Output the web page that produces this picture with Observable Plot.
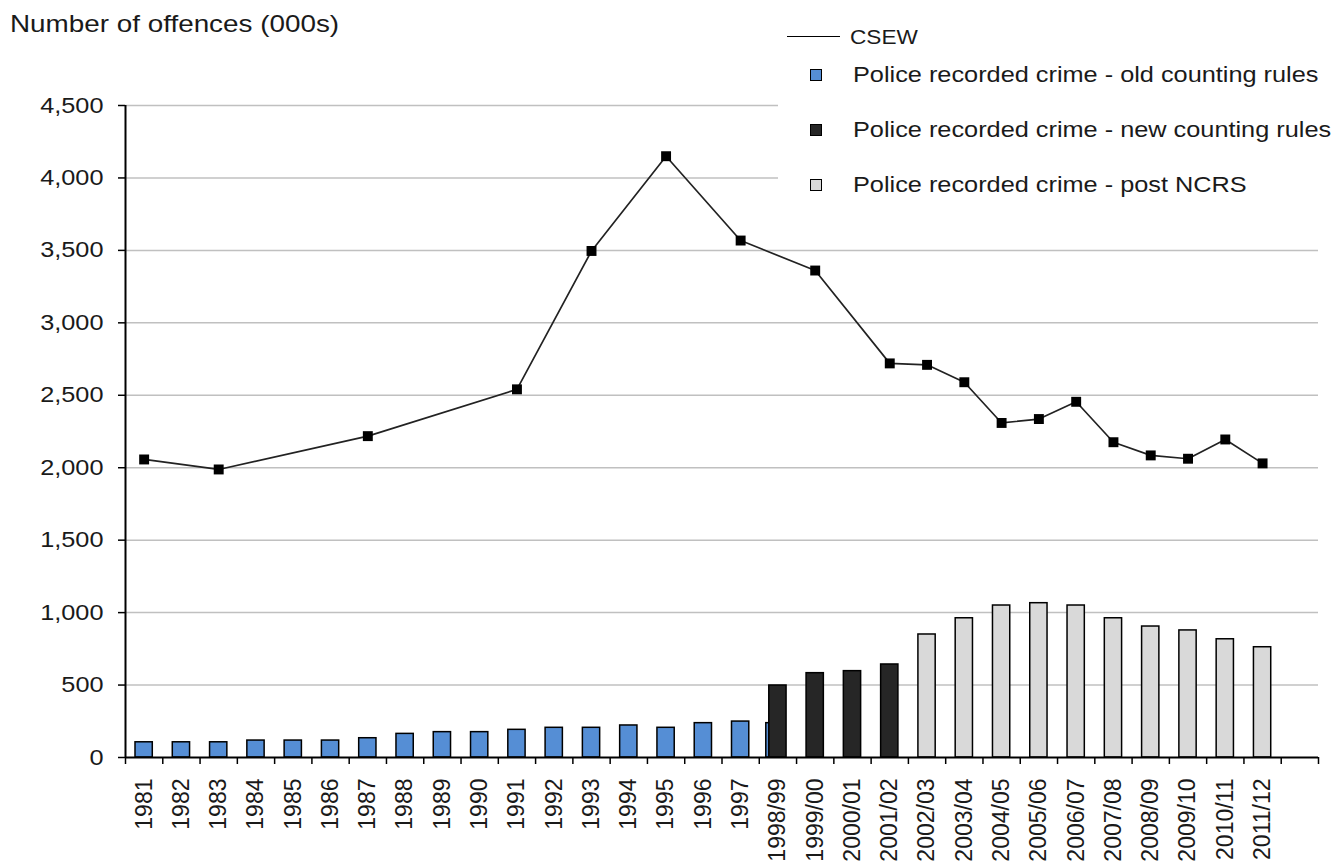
<!DOCTYPE html>
<html><head><meta charset="utf-8">
<script src="https://cdn.jsdelivr.net/npm/d3@7"></script>
<script src="https://cdn.jsdelivr.net/npm/@observablehq/plot@0.6"></script>
<style>
body{margin:0;background:#fff;font-family:"Liberation Sans",Arial,sans-serif;color:#1a1a1a;}
#wrap{position:relative;width:1344px;height:865px;overflow:hidden;background:#fff}
.stretch{position:absolute;white-space:nowrap;transform-origin:0 0;line-height:1}
</style></head><body>
<div id="wrap">
  <div id="title" class="stretch" style="left:10px;top:12px;font-size:24px;transform:scaleX(1.16)">Number of offences (000s)</div>
  <div id="chart" style="position:absolute;left:0;top:50px"></div>
  <div id="legend"></div>
</div>
<script>
// ---- data ----
const categories = ["1981","1982","1983","1984","1985","1986","1987","1988","1989","1990","1991","1992","1993","1994","1995","1996","1997","1998/99","1999/00","2000/01","2001/02","2002/03","2003/04","2004/05","2005/06","2006/07","2007/08","2008/09","2009/10","2010/11","2011/12"];
const oldRulesCats = ["1981","1982","1983","1984","1985","1986","1987","1988","1989","1990","1991","1992","1993","1994","1995","1996","1997","1998/99"];
const oldRulesValues = [105,105,105,117,117,117,133,163,175,175,191,205,205,221,205,237,248,237];
const newRulesCats = ["1998/99","1999/00","2000/01","2001/02"];
const newRulesValues = [497,582,596,642];
const postNcrsCats = ["2002/03","2003/04","2004/05","2005/06","2006/07","2007/08","2008/09","2009/10","2010/11","2011/12"];
const postNcrsValues = [849,961,1049,1065,1049,961,904,877,816,761];
const csewCats = ["1981","1983","1987","1991","1993","1995","1997","1999/00","2001/02","2002/03","2003/04","2004/05","2005/06","2006/07","2007/08","2008/09","2009/10","2010/11","2011/12"];
const csewValues = [2057,1988,2218,2541,3496,4150,3568,3361,2720,2710,2590,2309,2336,2455,2176,2085,2062,2195,2030];
const yTicks = [0,500,1000,1500,2000,2500,3000,3500,4000,4500];
const legendLabels = ["CSEW","Police recorded crime - old counting rules","Police recorded crime - new counting rules","Police recorded crime - post NCRS"];
const legendColors = ["#000000","#558ed5","#262626","#d9d9d9"];

// ---- build ----
const blank = " ";
const xDomain = [...categories, blank];
const W = 1344, H = 815, mL = 125, mR = 26, mT = 55, mB = 108;
const step = (W - mL - mR) / xDomain.length;
const inset = 10;

const toRows = (cats, vals) => cats.map((c, i) => ({cat: c, value: vals[i]}));
const oldRows = toRows(oldRulesCats, oldRulesValues);
const newRows = toRows(newRulesCats, newRulesValues);
const postRows = toRows(postNcrsCats, postNcrsValues);
const csewRows = toRows(csewCats, csewValues);
const overlapCats = new Set(newRulesCats);

const barStyle = {x: "cat", y: "value", stroke: "#000", strokeWidth: 1.5, insetLeft: inset, insetRight: inset};

const chart = Plot.plot({
  width: W, height: H,
  marginLeft: mL, marginRight: mR, marginTop: mT, marginBottom: mB,
  x: {type: "band", domain: xDomain, padding: 0, round: false, label: null},
  y: {domain: [0, yTicks[yTicks.length - 1]], label: null},
  style: {fontFamily: "'Liberation Sans', Arial, sans-serif", fontSize: "22px", color: "#1a1a1a", background: "transparent"},
  marks: [
    Plot.gridY(yTicks.filter(v => v > 0), {stroke: "#c0c0c0", strokeOpacity: 1, strokeWidth: 1.5}),
    Plot.barY(oldRows.filter(d => overlapCats.has(d.cat)), {...barStyle, fill: legendColors[1], dx: -3}),
    Plot.barY(oldRows.filter(d => !overlapCats.has(d.cat)), {...barStyle, fill: legendColors[1]}),
    Plot.barY(newRows, {...barStyle, fill: legendColors[2]}),
    Plot.barY(postRows, {...barStyle, fill: legendColors[3]}),
    Plot.ruleY([0], {stroke: "#000", strokeWidth: 2}),
    Plot.ruleX([xDomain[0]], {dx: -step / 2, stroke: "#000", strokeWidth: 2}),
    Plot.axisY(yTicks, {tickSize: 7, tickPadding: 15, tickFormat: d3.format(","), fontSize: 22, stroke: "#000", strokeWidth: 1.5}),
    Plot.axisX(xDomain, {tickSize: 7, tickFormat: () => "", dx: -step / 2, stroke: "#000", strokeWidth: 1.5}),
    Plot.axisX([blank], {tickSize: 7, tickFormat: () => "", dx: step / 2, stroke: "#000", strokeWidth: 1.5}),
    Plot.axisX(categories, {tickSize: 0, tickPadding: 21, tickRotate: -90, fontSize: 23}),
    Plot.line(csewRows, {x: "cat", y: "value", stroke: "#222", strokeWidth: 1.7}),
    Plot.dot(csewRows, {x: "cat", y: "value", symbol: "square", r: 5.6, fill: "#000", stroke: "none"})
  ]
});
document.getElementById("chart").appendChild(chart);

// widen horizontal tick labels to match the reference's wide glyphs
chart.querySelectorAll('g[aria-label="y-axis tick label"] text').forEach(t => {
  const w = t.getComputedTextLength();
  t.setAttribute("textLength", (w * 1.15).toFixed(1));
  t.setAttribute("lengthAdjust", "spacingAndGlyphs");
});

// ---- legend ----
const lg = document.getElementById("legend");
lg.style.cssText = "position:absolute;left:778px;top:8px;width:566px;height:200px;background:#fff";
const add = (html, css) => { const d = document.createElement("div"); d.innerHTML = html; d.style.cssText = css; document.getElementById("wrap").appendChild(d); return d; };
// CSEW line sample
add("", "position:absolute;left:787px;top:36px;width:53px;height:0;border-top:1.6px solid " + legendColors[0]);
add(legendLabels[0], "position:absolute;left:850px;top:27px;font-size:20px;line-height:1;white-space:nowrap;transform:scaleX(1.13);transform-origin:0 0");
const centers = [75, 130, 185];
for (let i = 1; i < 4; i++) {
  const cy = centers[i - 1];
  add("", `position:absolute;left:810px;top:${cy - 6}px;width:10px;height:10px;background:${legendColors[i]};border:1.5px solid #000`);
  add(legendLabels[i], `position:absolute;left:853px;top:${cy - 11}px;font-size:22px;line-height:1;white-space:nowrap;transform:scaleX(1.15);transform-origin:0 0`);
}
</script>
</body></html>
